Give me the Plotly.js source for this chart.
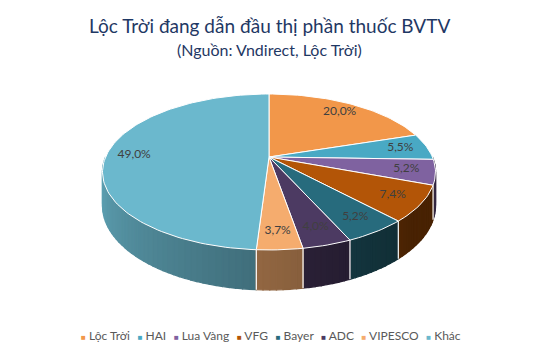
<!DOCTYPE html>
<html>
<head>
<meta charset="utf-8">
<script src="https://cdn.plot.ly/plotly-3.0.1.min.js"></script>
<style>html,body{margin:0;padding:0;background:#fff;}#chart{width:538px;height:355px;}</style>
</head>
<body>
<div id="chart"></div>
<script>
// ---- data ----
const categories = ['Lộc Trời', 'HAI', 'Lua Vàng', 'VFG', 'Bayer', 'ADC', 'VIPESCO', 'Khác'];
const shares = [20.0, 5.5, 5.2, 7.4, 5.2, 4.0, 3.7, 49.0];
const colors = ['#F2974A', '#49A9C4', '#7F62A0', '#B35507', '#276B7D', '#4C3A62', '#F5AC6E', '#6BB8CD'];
const titleLine1 = 'Lộc Trời đang dẫn đầu thị phần thuốc BVTV';
const titleLine2 = '(Nguồn: Vndirect, Lộc Trời)';

// ---- geometry (style, pixel space) ----
const CX = 269, CY = 157, A = 163.4, B = 75.1, P = 0.192, D = 32.3, LR = 0.83;
const DEG = Math.PI / 180;
function proj(thDeg, r, drop) {
  const t = thDeg * DEG;
  const u = r * Math.sin(t), v = r * Math.cos(t);
  const w = 1 + P * v;
  return [CX + A * u / w, CY - B * v / w + drop / w];
}
function hexToRgb(h) { return [1, 3, 5].map(i => parseInt(h.substr(i, 2), 16)); }
function shade(h, f) { const c = hexToRgb(h).map(x => Math.round(Math.min(255, x * f))); return `rgb(${c[0]},${c[1]},${c[2]})`; }
function wallFactor(th) {
  if (th <= 130) return 0.40;
  return Math.min(0.92, 0.40 + 0.52 * (th - 130) / 140);
}

const total = shares.reduce((a, b) => a + b, 0);
const starts = [], ends = [];
let acc = 0;
shares.forEach(s => { starts.push(acc / total * 360); acc += s; ends.push(acc / total * 360); });

const traces = [];
// walls
const strips = [];
shares.forEach((s, i) => {
  const a0 = Math.max(starts[i], 90), a1 = Math.min(ends[i], 270);
  if (a1 <= a0) return;
  const n = Math.max(1, Math.ceil((a1 - a0) / 2));
  for (let k = 0; k < n; k++) {
    const ta = a0 + (a1 - a0) * k / n, tb = a0 + (a1 - a0) * (k + 1) / n;
    const p1 = proj(ta, 1, 0), p2 = proj(tb, 1, 0), p3 = proj(tb, 1, D), p4 = proj(ta, 1, D);
    const col = shade(colors[i], wallFactor((ta + tb) / 2));
    strips.push({ d: Math.abs((ta + tb) / 2 - 180), tr: {
      type: 'scatter', mode: 'lines', x: [p1[0], p2[0], p3[0], p4[0], p1[0]], y: [p1[1], p2[1], p3[1], p4[1], p1[1]],
      fill: 'toself', fillcolor: col, line: { color: col, width: 1.3 }, hoverinfo: 'skip', showlegend: false
    }});
  }
});
strips.sort((a, b) => b.d - a.d).forEach(s => traces.push(s.tr));
// white separators on wall
starts.forEach((a, i) => {
  if (a > 101 && a < 259) {
    const t = proj(a, 1, 0), b = proj(a, 1, D);
    traces.push({ type: 'scatter', mode: 'lines', x: [t[0], b[0]], y: [t[1], b[1]], line: { color: '#ffffff', width: 1.2 }, hoverinfo: 'skip', showlegend: false });
  }
});
// top faces
shares.forEach((s, i) => {
  const xs = [CX], ys = [CY];
  const n = Math.max(2, Math.ceil((ends[i] - starts[i]) / 1.5));
  for (let k = 0; k <= n; k++) {
    const p = proj(starts[i] + (ends[i] - starts[i]) * k / n, 1, 0);
    xs.push(p[0]); ys.push(p[1]);
  }
  xs.push(CX); ys.push(CY);
  traces.push({ type: 'scatter', mode: 'lines', x: xs, y: ys, fill: 'toself', fillcolor: colors[i],
    line: { color: '#ffffff', width: 1 }, hoverinfo: 'skip', showlegend: false });
});
// labels
const lx = [], ly = [], lt = [];
shares.forEach((s, i) => {
  const p = proj((starts[i] + ends[i]) / 2, LR, 0);
  lx.push(p[0]); ly.push(p[1]); lt.push(s.toFixed(1).replace('.', ',') + '%');
});
traces.push({ type: 'scatter', mode: 'text', x: lx, y: ly, text: lt, textposition: 'middle center',
  textfont: { family: 'Lato, sans-serif', size: 12, color: '#404040' }, hoverinfo: 'skip', showlegend: false });

const legendText = categories.map((c, i) => `<span style="color:${colors[i]};font-size:8px">■</span> ${c}`).join('&nbsp;&nbsp;&#8201;');

const layout = {
  width: 538, height: 355,
  margin: { l: 0, r: 0, t: 0, b: 0 },
  paper_bgcolor: '#ffffff', plot_bgcolor: '#ffffff',
  showlegend: false,
  xaxis: { range: [0, 538], visible: false, fixedrange: true },
  yaxis: { range: [355, 0], visible: false, fixedrange: true },
  annotations: [
    { text: titleLine1, xref: 'paper', yref: 'paper', x: 0.5, y: 1 - 25 / 355, xanchor: 'center', yanchor: 'middle',
      showarrow: false, font: { family: 'Lato, sans-serif', size: 19, color: '#1F3864' } },
    { text: titleLine2, xref: 'paper', yref: 'paper', x: 0.5, y: 1 - 49 / 355, xanchor: 'center', yanchor: 'middle',
      showarrow: false, font: { family: 'Lato, sans-serif', size: 16, color: '#1F3864' } },
    { text: legendText, xref: 'paper', yref: 'paper', x: 271 / 538, y: 1 - 335 / 355,
      xanchor: 'center', yanchor: 'middle', showarrow: false,
      font: { family: 'Lato, sans-serif', size: 12, color: '#595959' } }
  ]
};
Plotly.newPlot('chart', traces, layout, { displayModeBar: false, staticPlot: true });
</script>
</body>
</html>
